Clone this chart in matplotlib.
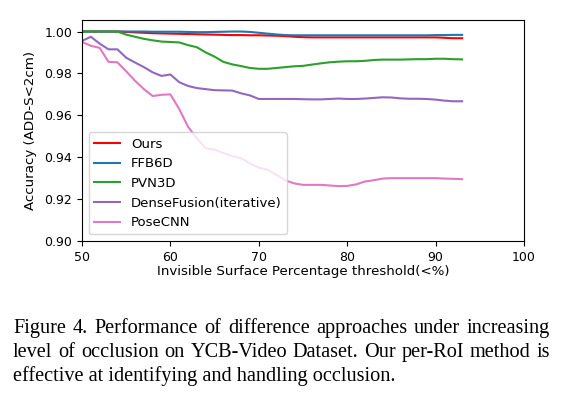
import matplotlib
matplotlib.use("Agg")
import matplotlib.pyplot as plt
import numpy as np

# occlusion threshold (%) on the x axis
threshold = list(range(50, 94))

ours = [1.0, 1.0, 1.0, 1.0, 1.0, 0.9998, 0.9996, 0.9994, 0.9992, 0.9991,
        0.9990, 0.9989, 0.9988, 0.9987, 0.9986, 0.9985, 0.9984, 0.9983, 0.9983, 0.9982,
        0.9982, 0.9981, 0.9980, 0.9978, 0.9975, 0.9973, 0.9972, 0.9972, 0.9972, 0.9972,
        0.9972, 0.9972, 0.9972, 0.9972, 0.9972, 0.9972, 0.9972, 0.9972, 0.9972, 0.9972,
        0.9972, 0.9970, 0.9968, 0.9968]
ffb6d = [1.0, 1.0, 1.0, 1.0, 1.0, 1.0, 1.0, 1.0, 0.9999, 0.9999,
         0.9999, 0.9999, 0.9998, 0.9997, 0.9997, 0.9998, 0.9999, 1.0, 1.0, 0.9998,
         0.9994, 0.9990, 0.9986, 0.9983, 0.9982, 0.9982, 0.9982, 0.9982, 0.9982, 0.9982,
         0.9982, 0.9982, 0.9982, 0.9982, 0.9982, 0.9982, 0.9982, 0.9982, 0.9982, 0.9982,
         0.9983, 0.9983, 0.9984, 0.9984]
pvn3d = [1.0, 1.0, 1.0, 1.0, 1.0, 0.9985, 0.9975, 0.9965, 0.9958, 0.9952,
         0.9950, 0.9948, 0.9935, 0.9925, 0.9900, 0.9880, 0.9855, 0.9843, 0.9835, 0.9826,
         0.9822, 0.9822, 0.9826, 0.9830, 0.9834, 0.9836, 0.9842, 0.9848, 0.9853, 0.9856,
         0.9858, 0.9858, 0.9860, 0.9864, 0.9866, 0.9866, 0.9866, 0.9867, 0.9868, 0.9868,
         0.9870, 0.9870, 0.9868, 0.9867]
densefusion = [0.9955, 0.9975, 0.9942, 0.9915, 0.9915, 0.9875, 0.9852, 0.9830, 0.9805, 0.9788,
               0.9795, 0.9758, 0.9740, 0.9730, 0.9725, 0.9720, 0.9719, 0.9718, 0.9705, 0.9695,
               0.9678, 0.9678, 0.9678, 0.9678, 0.9678, 0.9677, 0.9676, 0.9676, 0.9678, 0.9680,
               0.9678, 0.9678, 0.9680, 0.9683, 0.9686, 0.9685, 0.9681, 0.9679, 0.9679, 0.9678,
               0.9675, 0.9670, 0.9667, 0.9667]
posecnn = [0.9950, 0.9932, 0.9922, 0.9855, 0.9853, 0.9810, 0.9765, 0.9725, 0.9692, 0.9698,
           0.9700, 0.9630, 0.9545, 0.9490, 0.9442, 0.9436, 0.9420, 0.9405, 0.9395, 0.9370,
           0.9350, 0.9340, 0.9315, 0.9290, 0.9275, 0.9268, 0.9268, 0.9268, 0.9265, 0.9262,
           0.9263, 0.9270, 0.9284, 0.9290, 0.9298, 0.9300, 0.9300, 0.9300, 0.9300, 0.9300,
           0.9300, 0.9298, 0.9297, 0.9295]

labels = ["Ours", "FFB6D", "PVN3D", "DenseFusion(iterative)", "PoseCNN"]
colors = ["red", "#1f77b4", "#2ca02c", "#9467bd", "#e377c2"]

caption = [
    "Figure 4.  Performance of difference approaches under increasing",
    "level of occlusion on YCB-Video Dataset. Our per-RoI method is",
    "effective at identifying and handling occlusion.",
]

W, H = 563, 395
fig = plt.figure(figsize=(W / 100, H / 100), dpi=100)
ax = fig.add_axes([82 / W, 1 - 241 / H, (524 - 82) / W, (241 - 20) / H])

series = [ours, ffb6d, pvn3d, densefusion, posecnn]
for ys, lab, c in zip(series, labels, colors):
    ax.plot(threshold, ys, color=c, lw=1.5, label=lab)

ax.set_xlim(50, 100)
ax.set_ylim(0.90, 1.0055)
ax.set_yticks(np.arange(0.90, 1.001, 0.02))
ax.yaxis.set_major_formatter(matplotlib.ticker.FormatStrFormatter("%.2f"))
ax.tick_params(labelsize=9)
ax.set_xlabel("Invisible Surface Percentage threshold(<%)", fontsize=9.6, labelpad=1)
ax.set_ylabel("Accuracy (ADD-S<2cm)", fontsize=9.6, labelpad=5)
ax.legend(loc="lower left", fontsize=9.5)

# caption, justified like the paper (word by word)
r = fig.canvas.get_renderer()
x0, x1 = 13 / W, 550 / W
fs = 14.6
for i, line in enumerate(caption):
    yb = 1 - (333 + 24 * i) / H
    if i == len(caption) - 1:
        fig.text(x0, yb, line, family="Liberation Serif", fontsize=fs, va="baseline")
        continue
    words = line.split()
    ts = [fig.text(0, yb, w, family="Liberation Serif", fontsize=fs, va="baseline") for w in words]
    ws = [t.get_window_extent(r).width / W for t in ts]
    gap = (x1 - x0 - sum(ws)) / (len(ws) - 1)
    x = x0
    for t, w in zip(ts, ws):
        t.set_x(x)
        x += w + gap

fig.savefig("out.png", dpi=100)
